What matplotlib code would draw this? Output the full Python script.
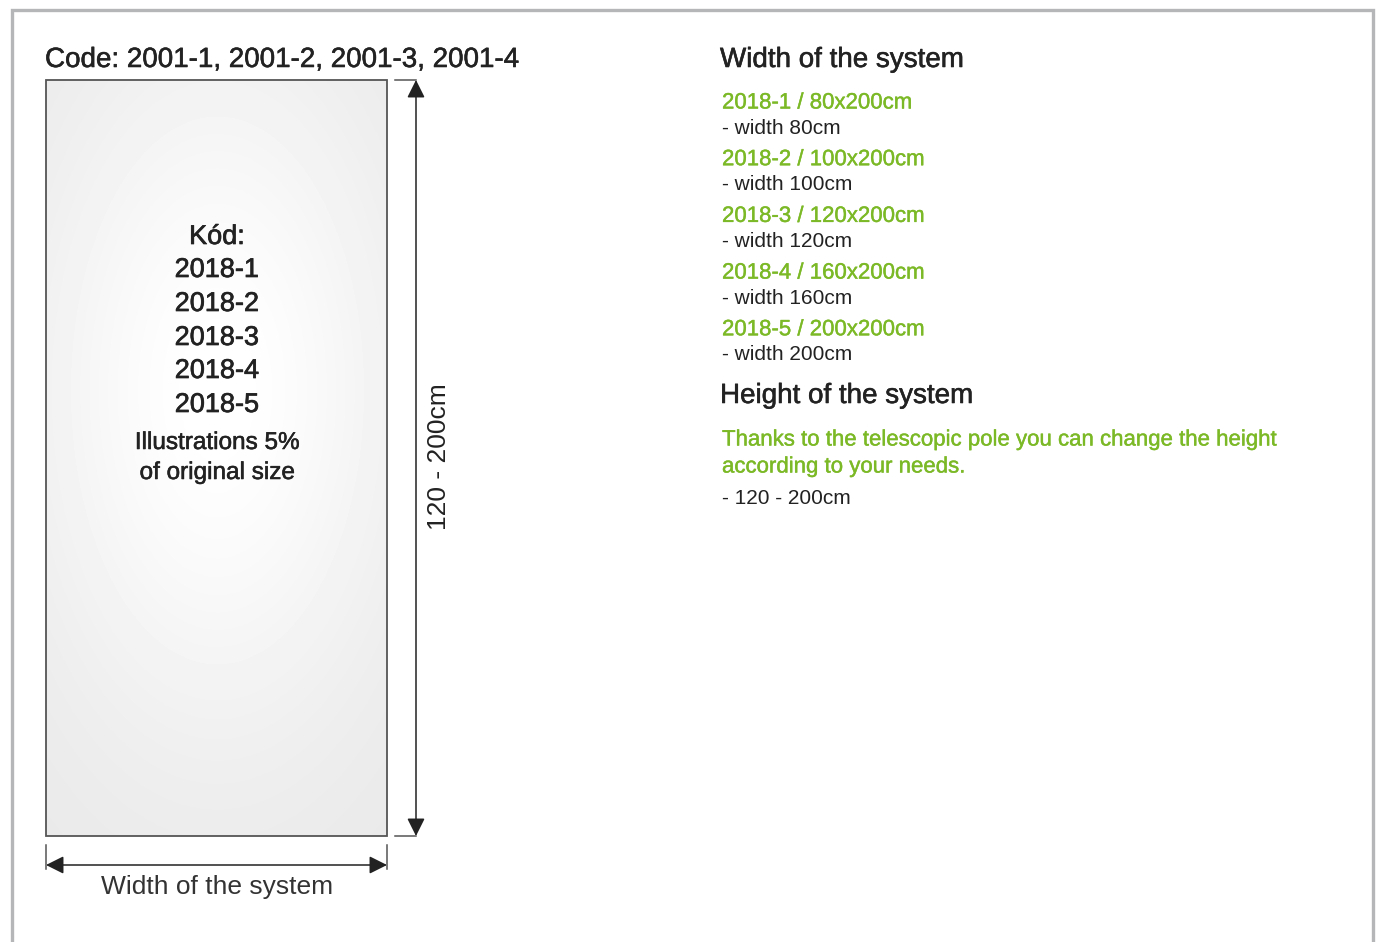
import numpy as np
import matplotlib.pyplot as plt
import matplotlib.patheffects as pe

# texts / values
title_left = "Code: 2001-1, 2001-2, 2001-3, 2001-4"
panel_codes = ["Kód:", "2018-1", "2018-2", "2018-3", "2018-4", "2018-5"]
panel_note = ["Illustrations 5%", "of original size"]
height_label = "120 - 200cm"
width_label = "Width of the system"

variant_names = ["2018-1 / 80x200cm", "2018-2 / 100x200cm", "2018-3 / 120x200cm",
                 "2018-4 / 160x200cm", "2018-5 / 200x200cm"]
variant_widths = ["- width 80cm", "- width 100cm", "- width 120cm",
                  "- width 160cm", "- width 200cm"]
height_title = "Height of the system"
height_note = ["Thanks to the telescopic pole you can change the height",
               "according to your needs."]
height_range = "- 120 - 200cm"

GREEN = "#7cb927"
DARK = "#222222"
W, H = 1379, 942

plt.rcParams['font.family'] = ['Liberation Sans', 'DejaVu Sans']


def medium(color, w=0.4):
    # fake a medium weight with a thin outline
    return [pe.withStroke(linewidth=w, foreground=color)]


fig = plt.figure(figsize=(W / 100, H / 100), dpi=100)
ax = fig.add_axes([0, 0, 1, 1])
ax.set_xlim(0, W)
ax.set_ylim(H, 0)
ax.axis('off')

# outer frame (open at the bottom)
ax.plot([12, 12, 1373, 1373], [H + 5, 10, 10, H + 5], color="#b4b6b8", lw=2.4,
        solid_joinstyle='miter')

# panel with soft radial gradient
x0, x1, y0, y1 = 46, 387, 80, 836
yy, xx = np.mgrid[y0:y1, x0:x1]
r2 = ((xx - 217) / 230.0) ** 2 + ((yy - 390) / 430.0) ** 2
shade = 1.0 - 0.09 * (1 - np.exp(-1.6 * r2))
ax.imshow(shade, cmap='gray', vmin=0, vmax=1, extent=[x0, x1, y1, y0],
          interpolation='bilinear', zorder=1)
ax.add_patch(plt.Rectangle((x0, y0), x1 - x0, y1 - y0, fill=False,
                           ec="#555555", lw=1.3, zorder=2))

ax.text(45, 60, title_left, fontsize=20, color=DARK, va='center', ha='left',
        path_effects=medium(DARK))

# text inside panel
code_y = [237, 270, 304, 338, 371, 405]
for t, y in zip(panel_codes, code_y):
    ax.text(217, y, t, fontsize=19.5, color=DARK, ha='center', va='center', zorder=3,
            path_effects=medium(DARK, 0.5))
for t, y in zip(panel_note, [443, 473]):
    ax.text(217, y, t, fontsize=17.5, color=DARK, ha='center', va='center', zorder=3,
            path_effects=medium(DARK, 0.4))

# vertical dimension
arr = dict(arrowstyle='<|-|>', color=DARK, lw=1.1, mutation_scale=27,
           shrinkA=0, shrinkB=0)
ax.plot([395, 416], [y0, y0], color="#555555", lw=1.1)
ax.plot([395, 416], [y1, y1], color="#555555", lw=1.1)
ax.annotate('', xy=(416, y0), xytext=(416, y1), arrowprops=arr)
ax.text(439, 457, height_label, fontsize=19, color=DARK, rotation=90,
        ha='center', va='center')

# horizontal dimension
ax.plot([x0, x0], [845, 869], color="#555555", lw=1.1)
ax.plot([x1, x1], [845, 869], color="#555555", lw=1.1)
ax.annotate('', xy=(x0, 865), xytext=(x1, 865), arrowprops=arr)
ax.text(217, 887, width_label, fontsize=19, color="#333333", ha='center', va='center')

# right column
ax.text(720, 60, "Width of the system", fontsize=20, color=DARK, va='center',
        path_effects=medium(DARK))
for i, (n, w) in enumerate(zip(variant_names, variant_widths)):
    y = 103 + i * 56.7
    ax.text(722, y, n, fontsize=16, color=GREEN, va='center', path_effects=medium(GREEN, 0.3))
    ax.text(722, y + 25, w, fontsize=15, color=DARK, va='center')

ax.text(720, 396, height_title, fontsize=20, color=DARK, va='center',
        path_effects=medium(DARK))
for t, y in zip(height_note, [440, 467]):
    ax.text(722, y, t, fontsize=16, color=GREEN, va='center', path_effects=medium(GREEN, 0.3))
ax.text(722, 498, height_range, fontsize=15, color=DARK, va='center')

fig.savefig("out.png", dpi=100, facecolor='white')
